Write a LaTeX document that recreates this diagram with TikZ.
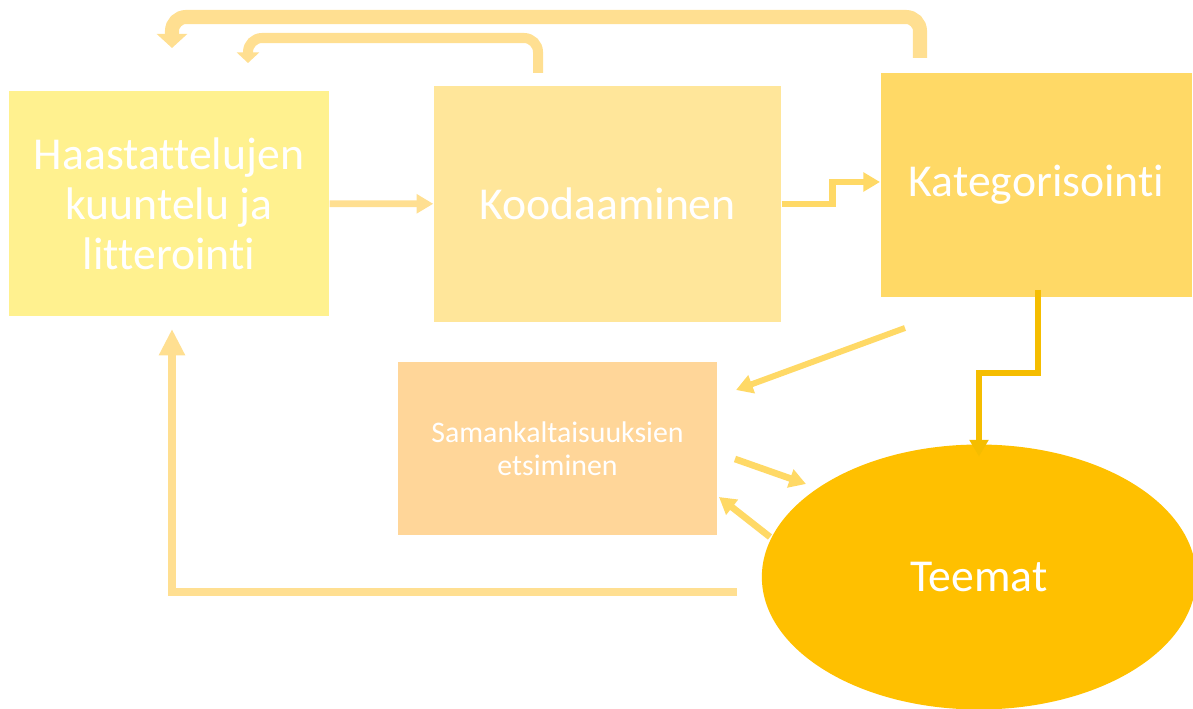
\documentclass[tikz,border=0pt]{standalone}
\usepackage{fontspec}
\setmainfont{Carlito}[Ligatures=NoCommon]
\usetikzlibrary{arrows.meta,shapes.geometric}

\definecolor{haastfill}{HTML}{FFF18F}
\definecolor{koodfill}{HTML}{FFE69A}
\definecolor{katfill}{HTML}{FFD966}
\definecolor{samanfill}{HTML}{FFD699}
\definecolor{teemafill}{HTML}{FFC000}
\definecolor{lightarrow}{HTML}{FFDF91}
\definecolor{midarrow}{HTML}{FFD966}
\definecolor{darkarrow}{HTML}{F5BD00}

\begin{document}
\begin{tikzpicture}[x=0.02cm,y=-0.02cm]
    \tikzstyle{box}=[rectangle, inner sep=0pt, text=white, align=center];
    \tikzstyle{big text}=[font=\fontsize{26}{28.5}\selectfont];
    \tikzstyle{small text}=[font=\fontsize{17}{19}\selectfont];
    \tikzstyle{arrow}=[line width=3.8pt, -{Triangle[width=10.5pt,length=9.5pt]}];
    \tikzstyle{uturn}=[rounded corners=8pt, color=lightarrow];

    \useasboundingbox (0,0) rectangle (1193,709);
    \clip (0,0) rectangle (1193,709);

    \node[box, big text, fill=haastfill, minimum width=182.5pt, minimum height=127.6pt] (haast) at (169,203.5) {Haastattelujen\\kuuntelu ja\\litterointi};
    \node[box, big text, fill=koodfill, minimum width=197.9pt, minimum height=133.8pt] (kood) at (607.5,204) {Koodaaminen};
    \node[box, big text, fill=katfill, minimum width=177.4pt, minimum height=127pt] (kat) at (1036.5,185) {Kategorisointi};
    \node[box, small text, fill=samanfill, minimum width=182pt, minimum height=98.1pt] (saman) at (557.5,448.5) {Samankaltaisuuksien\\etsiminen};
    \node[ellipse, inner sep=0pt, fill=teemafill, text=white, big text, minimum width=247.2pt, minimum height=150.8pt] (teemat) at (979,577) {Teemat};

    \coordinate (u1s) at (920,58);
    \coordinate (u1e) at (172,48);
    \coordinate (u2s) at (538,73);
    \coordinate (u2e) at (248,63);
    \coordinate (katin) at (880,182);
    \coordinate (d1s) at (905,328);
    \coordinate (d1e) at (736,390);
    \coordinate (katout) at (1038,290);
    \coordinate (samout) at (735,459);
    \coordinate (teemin) at (806,484);
    \coordinate (teemout) at (770,537);
    \coordinate (samin) at (719,497);
    \coordinate (backs) at (737,592);
    \coordinate (backe) at (172,329);

    % paluunuolet ylhaalla
    \draw[uturn, line width=8pt, -{Triangle[width=17pt,length=8pt]}] (u1s) -- (920,17) -- (172,17) -- (u1e);
    \draw[uturn, line width=5.7pt, -{Triangle[width=12.5pt,length=6pt]}] (u2s) -- (538,38) -- (248,38) -- (u2e);

    \draw[arrow, lightarrow] (haast) -- (kood);
    \draw[arrow, midarrow] (kood.east) -- ++(51,0) |- (katin);
    \draw[arrow, midarrow, line width=3.4pt] (d1s) -- (d1e);
    \draw[arrow, darkarrow] (katout) -- ++(0,83) -| ([yshift=-7pt]teemat.north);
    \draw[arrow, midarrow] (samout) -- (teemin);
    \draw[arrow, midarrow] (teemout) -- (samin);
    \draw[arrow, lightarrow, line width=5pt, -{Triangle[width=14pt,length=15pt]}] (backs) -| (backe);

\end{tikzpicture}
\end{document}
